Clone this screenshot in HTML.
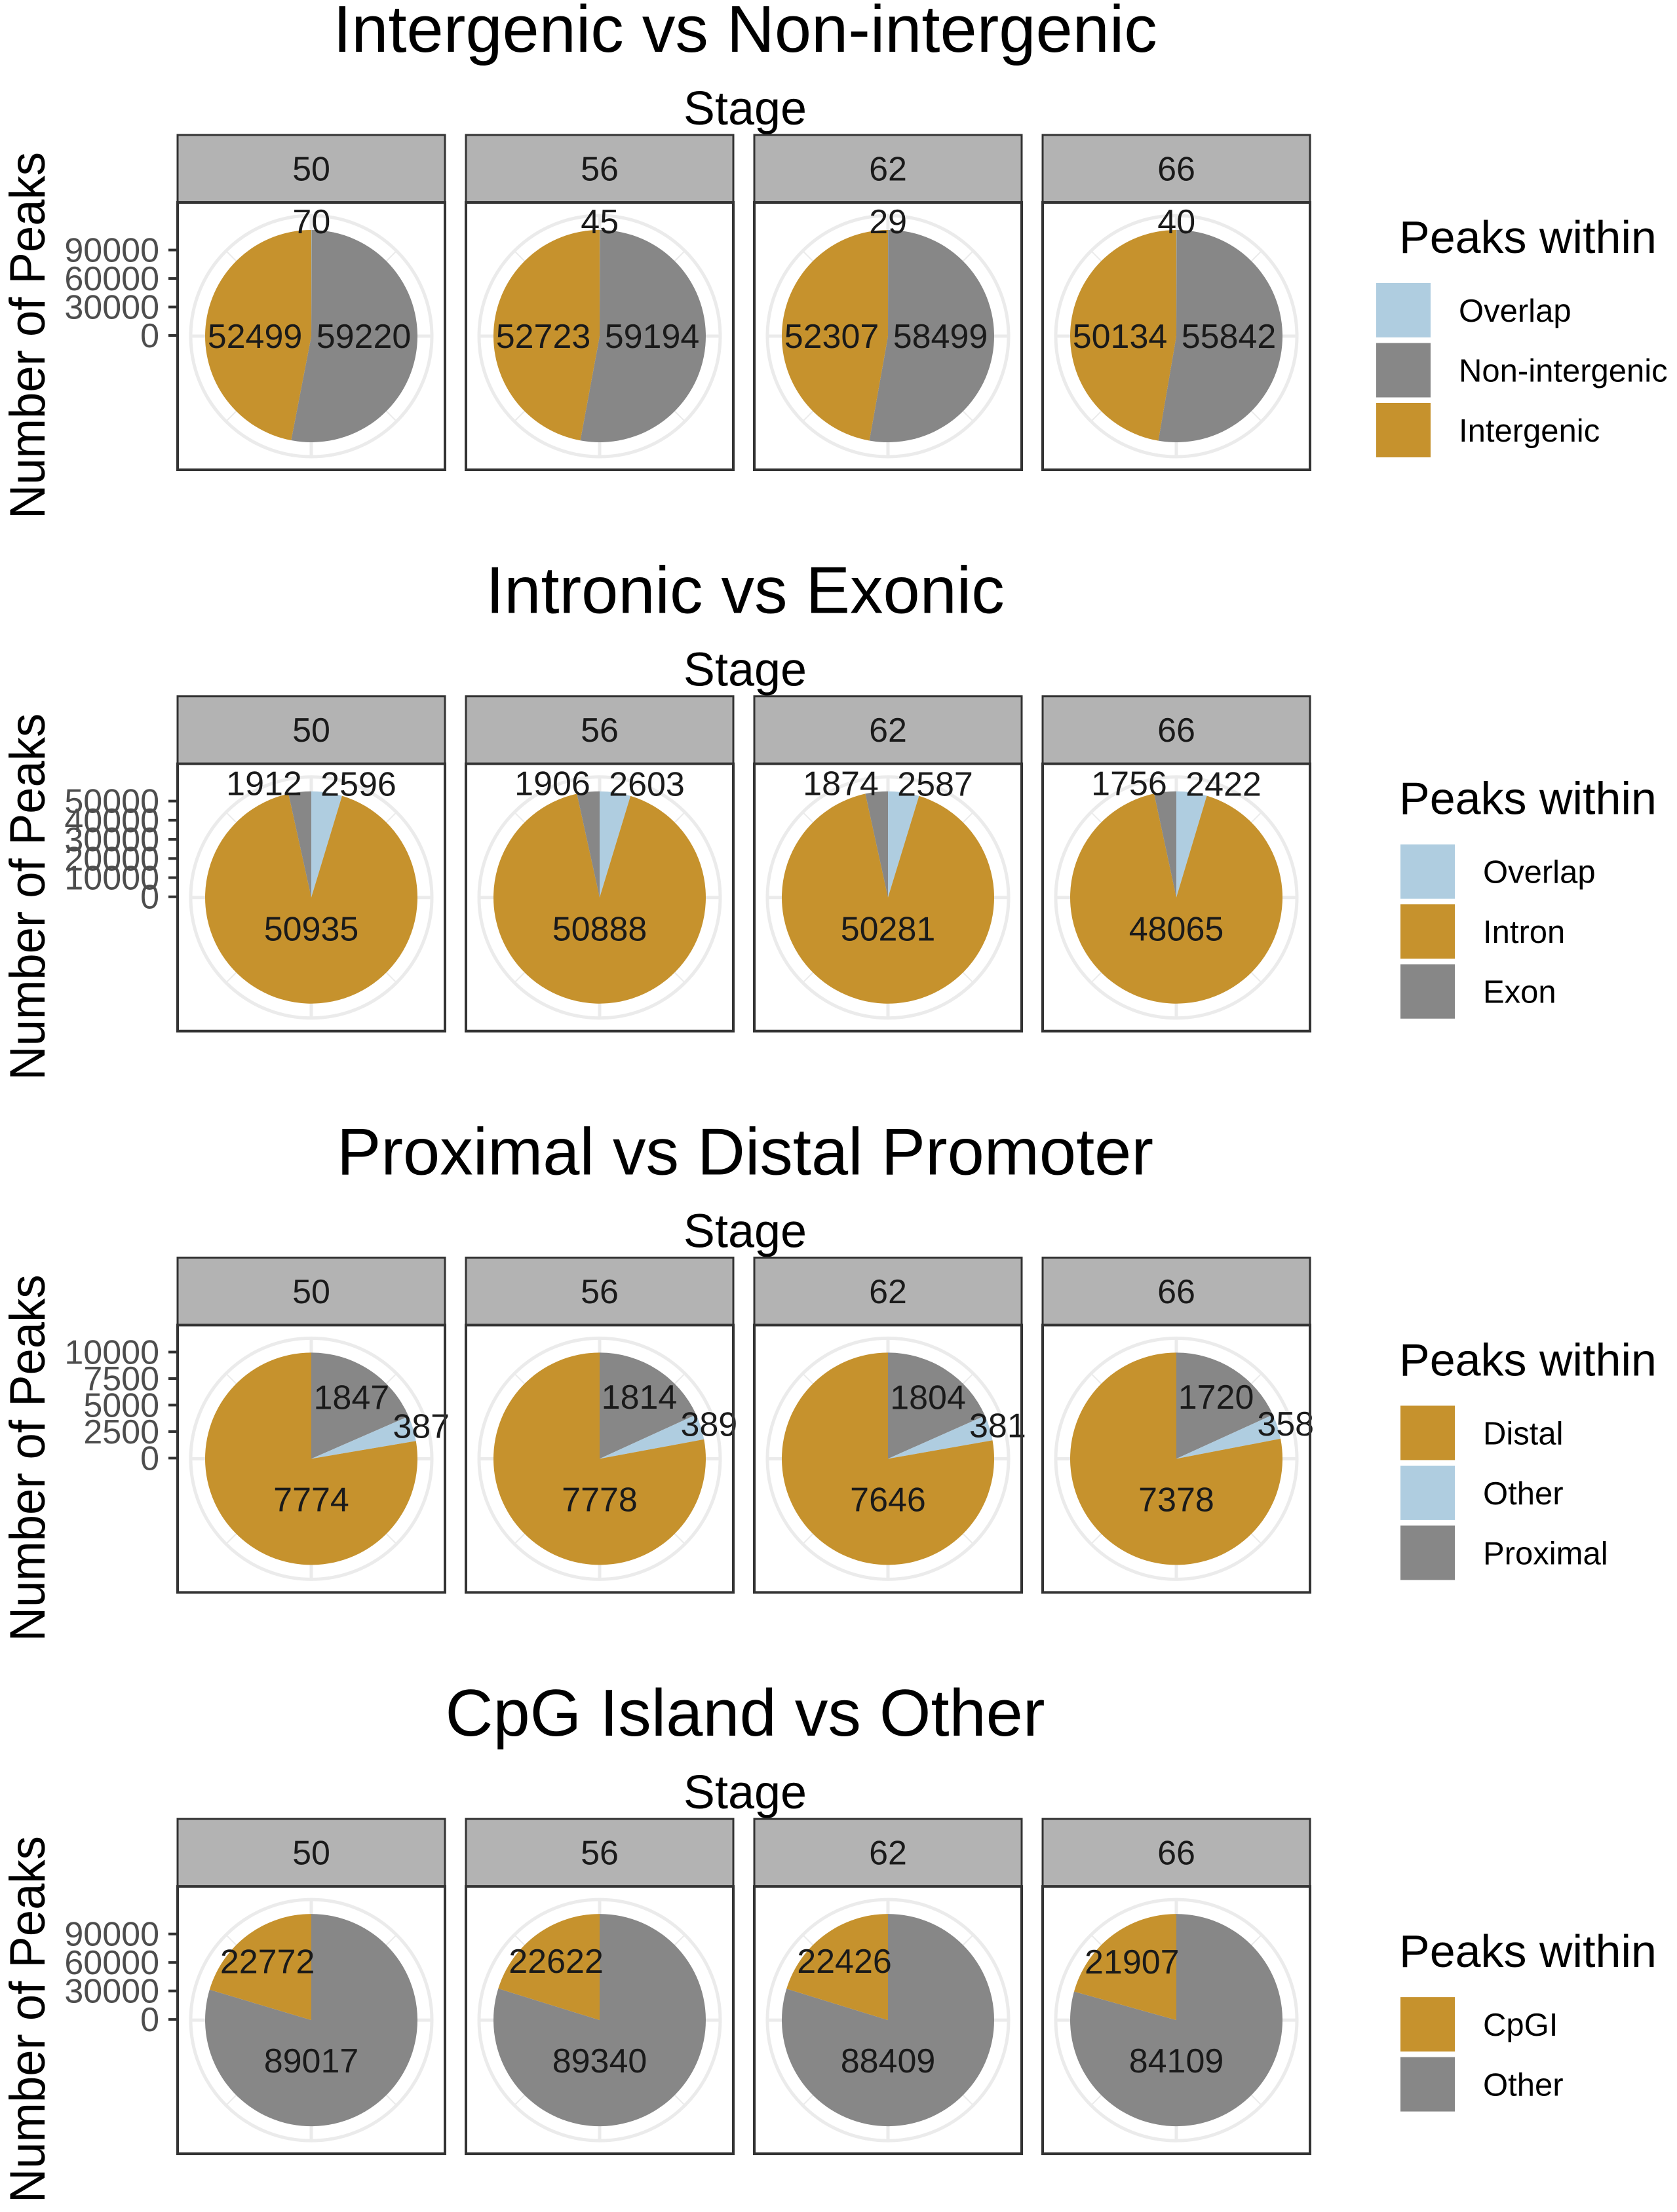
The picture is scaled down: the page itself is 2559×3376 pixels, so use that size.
<!DOCTYPE html>
<html><head><meta charset="utf-8">
<style>
html,body{margin:0;padding:0;background:#fff;}
svg text{font-family:"Liberation Sans",Arial,sans-serif;}
</style></head>
<body>
<svg id="fig" width="2559" height="3371" viewBox="0 0 2559 3371" xmlns="http://www.w3.org/2000/svg">
<rect width="2559" height="3371" fill="#fff"/>
</svg>
<script>
// ---- data ----
const stages = ["50","56","62","66"];
const rowTitles = ["Intergenic vs Non-intergenic","Intronic vs Exonic","Proximal vs Distal Promoter","CpG Island vs Other"];
// slice categories in clockwise order from 12 o'clock
const cats1 = ["Overlap","Non-intergenic","Intergenic"];
const vals1 = [[70,59220,52499],[45,59194,52723],[29,58499,52307],[40,55842,50134]];
const cats2 = ["Overlap","Intron","Exon"];
const vals2 = [[2596,50935,1912],[2603,50888,1906],[2587,50281,1874],[2422,48065,1756]];
const cats3 = ["Proximal","Other","Distal"];
const vals3 = [[1847,387,7774],[1814,389,7778],[1804,381,7646],[1720,358,7378]];
const cats4 = ["Other","CpGI"];
const vals4 = [[89017,22772],[89340,22622],[88409,22426],[84109,21907]];
const ticks1 = [0,30000,60000,90000];
const ticks2 = [0,10000,20000,30000,40000,50000];
const ticks3 = [0,2500,5000,7500,10000];
const ticks4 = [0,30000,60000,90000];
const legend1 = ["Overlap","Non-intergenic","Intergenic"];
const legend2 = ["Overlap","Intron","Exon"];
const legend3 = ["Distal","Other","Proximal"];
const legend4 = ["CpGI","Other"];

const colorMap = {"Overlap":"#afcde0","Non-intergenic":"#878787","Intergenic":"#c6922d",
  "Intron":"#c6922d","Exon":"#878787","Distal":"#c6922d","Other":"#afcde0","Proximal":"#878787","CpGI":"#c6922d"};
const rows = [
  {cats:cats1, vals:vals1, ticks:ticks1, legend:legend1, colors:colorMap},
  {cats:cats2, vals:vals2, ticks:ticks2, legend:legend2, colors:colorMap},
  {cats:cats3, vals:vals3, ticks:ticks3, legend:legend3, colors:colorMap},
  {cats:cats4, vals:vals4, ticks:ticks4, legend:legend4, colors:Object.assign({},colorMap,{"Other":"#878787"})}
];

const NS="http://www.w3.org/2000/svg";
const svg=document.getElementById('fig');
function mk(tag,attrs,parent){const e=document.createElementNS(NS,tag);for(const k in attrs)e.setAttribute(k,attrs[k]);(parent||svg).appendChild(e);return e;}
function txt(s,attrs,parent){const e=mk('text',attrs,parent);e.textContent=s;return e;}

const ROW_H=856.7, PANEL_X0=271, PANEL_W=408, PITCH=440, STRIP_TOP=206, STRIP_H=103, PLOT_H=408, R=162, GR=184;

rows.forEach((row,ri)=>{
  const oy=ri*ROW_H;
  const g=mk('g',{});
  
  
  const t=txt(rowTitles[ri],{x:1137,y:79+oy,'text-anchor':'middle','font-size':101,fill:'#000'},g);
  
  
  const st=txt("Stage",{x:1137,y:190+oy,'text-anchor':'middle','font-size':72,fill:'#000'},g);
  
  
  const yt=txt("Number of Peaks",{x:0,y:0,'text-anchor':'middle','font-size':76,fill:'#000',textLength:560,lengthAdjust:'spacingAndGlyphs',transform:`translate(68,${512+oy}) rotate(-90)`},g);
  
  

  const total0=row.vals[0].reduce((a,b)=>a+b,0);
  row.ticks.forEach(tv=>{
    const yy=512+oy - tv/total0*R;
    const tk=mk('line',{x1:257,x2:271,y1:yy,y2:yy,stroke:'#333','stroke-width':4},g);
    
    
    const tl=txt(String(tv),{x:243,y:yy+18,'text-anchor':'end','font-size':52,fill:'#4d4d4d'},g);
    
    
  });

  stages.forEach((s,pi)=>{
    const px=PANEL_X0+pi*PITCH, top=STRIP_TOP+oy;
    const pg=mk('g',{},g);
    
    
    const strip=mk('rect',{x:px,y:top,width:PANEL_W,height:STRIP_H,fill:'#b3b3b3',stroke:'#333','stroke-width':3},pg);
    
    
    const sl=txt(s,{x:px+PANEL_W/2,y:top+STRIP_H/2+18,'text-anchor':'middle','font-size':52,fill:'#1a1a1a'},pg);
    
    
    const pt=top+STRIP_H;
    const bg=mk('rect',{x:px,y:pt,width:PANEL_W,height:PLOT_H,fill:'#fff'},pg);
    
    
    const cx=px+PANEL_W/2, cy=pt+PLOT_H/2;
    const gc=mk('circle',{cx:cx,cy:cy,r:GR,fill:'none',stroke:'#ebebeb','stroke-width':5},pg);
    
    
    [0,45,90,135].forEach(a=>{
      const rad=a*Math.PI/180;
      const gl=mk('line',{x1:cx-GR*Math.sin(rad),y1:cy+GR*Math.cos(rad),x2:cx+GR*Math.sin(rad),y2:cy-GR*Math.cos(rad),stroke:'#ebebeb','stroke-width':a%90?2:5},pg);
      
      
    });
    const vals=row.vals[pi];
    const total=vals.reduce((a,b)=>a+b,0);
    let cum=0;
    const labels=[];
    vals.forEach((v,ci)=>{
      const a0=cum/total*2*Math.PI, a1=(cum+v)/total*2*Math.PI;
      cum+=v;
      const x0=cx+R*Math.sin(a0), y0=cy-R*Math.cos(a0), x1=cx+R*Math.sin(a1), y1=cy-R*Math.cos(a1);
      const large=(a1-a0)>Math.PI?1:0;
      let d;
      if(v/total>0.9999) d=`M${cx-R},${cy}a${R},${R} 0 1,0 ${2*R},0a${R},${R} 0 1,0 ${-2*R},0`;
      else d=`M${cx},${cy}L${x0},${y0}A${R},${R} 0 ${large},1 ${x1},${y1}Z`;
      const p=mk('path',{d:d,fill:row.colors[row.cats[ci]]},pg);
      
      
      const frac=v/total, mid=(a0+a1)/2;
      let lx,ly;
      if(frac>0.6){lx=cx;ly=cy+(frac>0.9?48:62);}
      else if(frac>=0.3){lx=cx+(Math.sin(mid)>=0?80:-86);ly=cy;}
      else{
        const lr=frac<0.05?175:112;
        lx=cx+lr*Math.sin(mid); ly=cy-lr*Math.cos(mid);
        if(frac<0.05&&frac>0.01){const sg=Math.sign(lx-cx)||1; if(Math.abs(lx-cx)<72) lx=cx+sg*72;}
      }
      labels.push([String(v),lx,ly]);
    });
    labels.forEach(l=>{
      const lt=txt(l[0],{x:l[1],y:l[2]+18,'text-anchor':'middle','font-size':52,fill:'#1a1a1a'},pg);
      
      
    });
    const br=mk('rect',{x:px,y:pt,width:PANEL_W,height:PLOT_H,fill:'none',stroke:'#333','stroke-width':4},pg);
    
    
  });

  const lg=mk('g',{},g);
  
  
  const n=row.legend.length;
  const kx = ri===0?2100:2137;
  const titleY = (n===3?386:432)+oy;
  const lt=txt("Peaks within",{x:2135,y:titleY,'font-size':70,fill:'#000'},lg);
  
  
  row.legend.forEach((c,i)=>{
    const ky=titleY+46+i*91.5;
    const kr=mk('rect',{x:kx,y:ky,width:83,height:83,fill:row.colors[c]},lg);
    
    
    const kl=txt(c,{x:kx+126,y:ky+59,'font-size':49,fill:'#000'},lg);
    
    
  });
});
</script>
</body></html>
